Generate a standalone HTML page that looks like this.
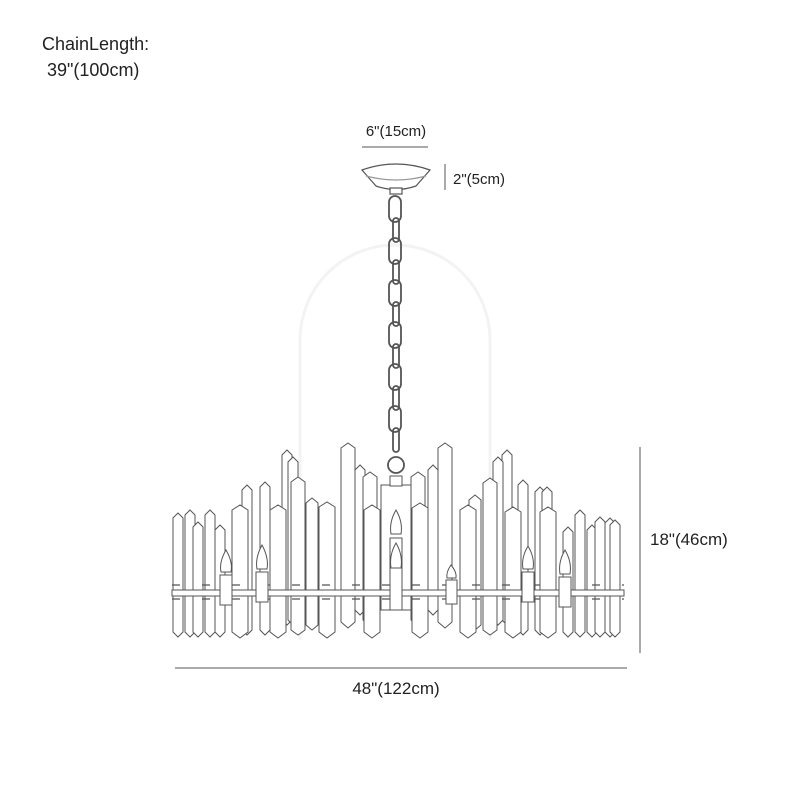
<!DOCTYPE html>
<html><head><meta charset="utf-8"><style>
html,body{margin:0;padding:0;background:#fff}
svg{display:block}
text{font-family:"Liberation Sans",sans-serif;fill:#222}
</style></head><body>
<svg width="800" height="800" viewBox="0 0 800 800" xmlns="http://www.w3.org/2000/svg">
<path d="M300 640 V340 A95 95 0 0 1 490 340 V640" fill="none" stroke="#f3f3f3" stroke-width="3"/>
<text x="42" y="50" font-size="18">ChainLength:</text>
<text x="47" y="76" font-size="18">39"(100cm)</text>
<text x="396" y="136" font-size="15" text-anchor="middle">6"(15cm)</text>
<line x1="362" y1="147" x2="428" y2="147" stroke="#555" stroke-width="1"/>
<line x1="445" y1="164" x2="445" y2="190" stroke="#555" stroke-width="1"/>
<text x="453" y="184" font-size="15">2"(5cm)</text>
<line x1="640" y1="447" x2="640" y2="653" stroke="#555" stroke-width="1"/>
<text x="650" y="545" font-size="17">18"(46cm)</text>
<line x1="175" y1="668" x2="627" y2="668" stroke="#555" stroke-width="1"/>
<text x="396" y="694" font-size="17" text-anchor="middle">48"(122cm)</text>
<g fill="#fff" stroke="#555" stroke-width="1.2">
<path d="M362 170 Q396 158 430 170 L416 186 Q396 193 376 186 Z"/>
<path d="M366 176 Q396 184 426 176" fill="none" stroke="#999"/>
<rect x="390" y="188" width="12" height="6"/>
</g>
<g fill="none" stroke="#555" stroke-width="1.8">
<rect x="389" y="196" width="12" height="26" rx="6"/>
<rect x="393" y="218" width="6" height="24" rx="3"/>
<rect x="389" y="238" width="12" height="26" rx="6"/>
<rect x="393" y="260" width="6" height="24" rx="3"/>
<rect x="389" y="280" width="12" height="26" rx="6"/>
<rect x="393" y="302" width="6" height="24" rx="3"/>
<rect x="389" y="322" width="12" height="26" rx="6"/>
<rect x="393" y="344" width="6" height="24" rx="3"/>
<rect x="389" y="364" width="12" height="26" rx="6"/>
<rect x="393" y="386" width="6" height="24" rx="3"/>
<rect x="389" y="406" width="12" height="26" rx="6"/>
<rect x="393" y="428" width="6" height="24" rx="3"/>
<circle cx="396" cy="465" r="8"/>
</g>
<g fill="#fff" stroke="#555" stroke-width="1">
<path d="M341 448 L348 443 L355 448 V622 L348 628 L341 622 Z"/>
<path d="M438 448 L445 443 L452 448 V622 L445 628 L438 622 Z"/>
<path d="M282 455 L287 450 L292 455 V620 L287 625 L282 620 Z"/>
<path d="M502 455 L507 450 L512 455 V620 L507 625 L502 620 Z"/>
<path d="M288 462 L293 457 L298 462 V620 L293 625 L288 620 Z"/>
<path d="M493 462 L498 457 L503 462 V620 L498 625 L493 620 Z"/>
<path d="M355 470 L360 465 L365 470 V610 L360 615 L355 610 Z"/>
<path d="M428 470 L433 465 L438 470 V610 L433 615 L428 610 Z"/>
<path d="M363 477 L370 472 L377 477 V620 L370 626 L363 620 Z"/>
<path d="M411 477 L418 472 L425 477 V620 L418 626 L411 620 Z"/>
<path d="M291 482 L298 477 L305 482 V630 L298 635 L291 630 Z"/>
<path d="M483 483 L490 478 L497 483 V630 L490 635 L483 630 Z"/>
<path d="M260 487 L265 482 L270 487 V630 L265 635 L260 630 Z"/>
<path d="M518 485 L523 480 L528 485 V630 L523 635 L518 630 Z"/>
<path d="M242 490 L247 485 L252 490 V630 L247 635 L242 630 Z"/>
<path d="M535 492 L540 487 L545 492 V630 L540 635 L535 630 Z"/>
<path d="M542 492 L547 487 L552 492 V630 L547 635 L542 630 Z"/>
<path d="M306 503 L312 498 L318 503 V625 L312 630 L306 625 Z"/>
<path d="M469 500 L475 495 L481 500 V625 L475 630 L469 625 Z"/>
<rect x="381" y="485" width="30" height="125"/>
<rect x="390" y="476" width="12" height="10"/>
<path d="M319 507 L327 502 L335 507 V632 L327 638 L319 632 Z"/>
<path d="M364 510 L372 505 L380 510 V632 L372 638 L364 632 Z"/>
<path d="M412 508 L420 503 L428 508 V632 L420 638 L412 632 Z"/>
<path d="M460 510 L468 505 L476 510 V632 L468 638 L460 632 Z"/>
<path d="M232 510 L240 505 L248 510 V632 L240 638 L232 632 Z"/>
<path d="M270 510 L278 505 L286 510 V632 L278 638 L270 632 Z"/>
<path d="M505 512 L513 507 L521 512 V632 L513 638 L505 632 Z"/>
<path d="M540 512 L548 507 L556 512 V632 L548 638 L540 632 Z"/>
<path d="M185 515 L190 510 L195 515 V632 L190 637 L185 632 Z"/>
<path d="M205 515 L210 510 L215 515 V632 L210 637 L205 632 Z"/>
<path d="M575 515 L580 510 L585 515 V632 L580 637 L575 632 Z"/>
<path d="M173 518 L178 513 L183 518 V632 L178 637 L173 632 Z"/>
<path d="M193 527 L198 522 L203 527 V632 L198 637 L193 632 Z"/>
<path d="M215 530 L220 525 L225 530 V632 L220 637 L215 632 Z"/>
<path d="M563 532 L568 527 L573 532 V632 L568 637 L563 632 Z"/>
<path d="M587 530 L592 525 L597 530 V632 L592 637 L587 632 Z"/>
<path d="M595 522 L600 517 L605 522 V632 L600 637 L595 632 Z"/>
<path d="M605 523 L610 518 L615 523 V632 L610 637 L605 632 Z"/>
<path d="M610 525 L615 520 L620 525 V632 L615 637 L610 632 Z"/>
</g>
<g fill="#fff" stroke="#555" stroke-width="1">
<rect x="172" y="590" width="452" height="6"/>
</g>
<g stroke="#555" stroke-width="1.2" fill="#fff">
<line x1="172" y1="585" x2="624" y2="585" stroke-dasharray="8 22"/>
<line x1="172" y1="599" x2="624" y2="599" stroke-dasharray="8 22"/>
</g>
<g fill="#fff" stroke="#555" stroke-width="1">
<rect x="220" y="575" width="12" height="30"/><path d="M226 550 Q219 562 221 572 H231 Q233 562 226 550 Z"/>
<rect x="256" y="572" width="12" height="30"/><path d="M262 545 Q255 558 257 569 H267 Q269 558 262 545 Z"/>
<rect x="390" y="538" width="12" height="72"/><path d="M396 510 Q389 522 391 534 H401 Q403 522 396 510 Z"/>
<path d="M396 543 Q389 555 391 568 H401 Q403 555 396 543 Z"/>
<rect x="446" y="580" width="11" height="24"/><path d="M451 565 Q446 572 447 578 H456 Q457 572 451 565 Z"/>
<rect x="522" y="572" width="12" height="30"/><path d="M528 546 Q521 558 523 569 H533 Q535 558 528 546 Z"/>
<rect x="559" y="577" width="12" height="30"/><path d="M565 550 Q558 562 560 574 H570 Q572 562 565 550 Z"/>
</g>
</svg>
</body></html>
